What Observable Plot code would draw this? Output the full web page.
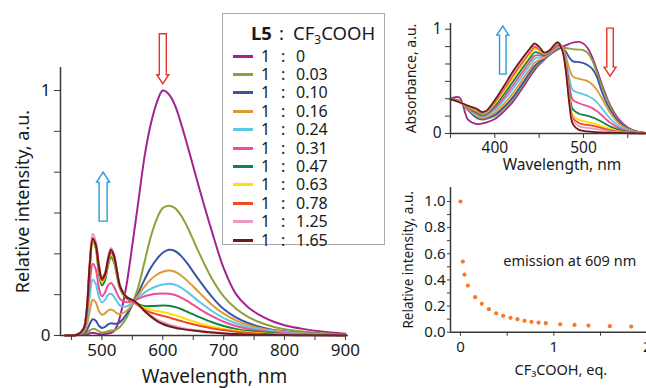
<!DOCTYPE html>
<html><head><meta charset="utf-8">
<script src="https://cdn.jsdelivr.net/npm/d3@7"></script>
<script src="https://cdn.jsdelivr.net/npm/@observablehq/plot@0.6"></script>
<style>
html,body{margin:0;padding:0;background:#fff;overflow:hidden;}
#wrap{position:relative;width:646px;height:388px;overflow:hidden;font-family:"Noto Sans","Open Sans",sans-serif;color:#1a1a1a;}
#wrap svg{position:absolute;max-width:none;overflow:visible;}
#legend{position:absolute;left:222px;top:13px;width:163px;height:232px;border:1.5px solid #a8a8a8;background:#fff;box-sizing:border-box;}
#legend .row{position:absolute;left:0;height:18px;line-height:18px;font-size:16px;white-space:nowrap;}
#legend .sw{position:absolute;left:10px;top:8px;width:20px;height:3px;}
#legend .one{position:absolute;left:38px;}
#legend .col{position:absolute;left:58px;}
#legend .val{position:absolute;left:73px;}
#legend .title{position:absolute;top:7px;left:0;height:24px;line-height:24px;font-size:18.5px;white-space:nowrap;}
</style></head><body><div id="wrap"></div><script>
// ---------- emission spectra (main panel) ----------
const ratioLabels = ["0","0.03","0.10","0.16","0.24","0.31","0.47","0.63","0.78","1.25","1.65"];
const seriesColors = ["#a4238f","#8aa23c","#3a55a5","#dc9a34","#5cc8e6","#ec4f9a","#11834a","#ffe000","#f04a23","#e99ac3","#6e1a1a"];
const emWl = [440,460,470,475,480,485,490,495,500,505,510,515,520,525,530,540,550,560,570,580,590,600,610,620,630,640,650,660,680,700,720,740,760,780,800,830,860,900];
const em_0    = [0,0.002,0.004,0.006,0.009,0.011,0.009,0.006,0.005,0.006,0.008,0.011,0.018,0.04,0.08,0.2,0.37,0.55,0.73,0.86,0.95,1.0,0.985,0.94,0.865,0.78,0.69,0.6,0.43,0.275,0.17,0.115,0.082,0.058,0.042,0.027,0.016,0.007];
const em_003  = [0,0.002,0.005,0.01,0.02,0.027,0.025,0.017,0.012,0.013,0.017,0.02,0.021,0.026,0.036,0.07,0.13,0.2,0.3,0.4,0.475,0.52,0.53,0.52,0.49,0.445,0.39,0.335,0.235,0.16,0.11,0.076,0.053,0.037,0.026,0.016,0.009,0.004];
const em_010  = [0,0.002,0.008,0.02,0.047,0.066,0.06,0.04,0.031,0.035,0.045,0.05,0.048,0.048,0.055,0.085,0.125,0.175,0.228,0.275,0.312,0.338,0.35,0.345,0.325,0.295,0.26,0.225,0.16,0.108,0.074,0.051,0.035,0.024,0.017,0.01,0.006,0.003];
const em_016  = [0,0.002,0.012,0.04,0.1,0.146,0.135,0.1,0.085,0.09,0.102,0.106,0.1,0.09,0.088,0.1,0.128,0.165,0.2,0.228,0.248,0.26,0.265,0.26,0.245,0.224,0.2,0.175,0.127,0.089,0.062,0.043,0.03,0.021,0.015,0.009,0.005,0.002];
const em_024  = [0,0.003,0.018,0.06,0.16,0.228,0.21,0.158,0.135,0.145,0.165,0.17,0.158,0.138,0.122,0.118,0.135,0.155,0.175,0.19,0.201,0.208,0.211,0.207,0.195,0.178,0.158,0.138,0.101,0.071,0.05,0.034,0.024,0.017,0.012,0.007,0.004,0.002];
const em_031  = [0,0.003,0.022,0.08,0.21,0.293,0.27,0.195,0.16,0.175,0.205,0.214,0.198,0.17,0.148,0.136,0.14,0.15,0.16,0.166,0.17,0.171,0.17,0.165,0.155,0.141,0.125,0.109,0.08,0.056,0.039,0.027,0.019,0.013,0.009,0.005,0.003,0.001];
const em_047  = [0,0.004,0.028,0.1,0.27,0.385,0.355,0.255,0.205,0.225,0.285,0.32,0.298,0.24,0.19,0.152,0.14,0.127,0.12,0.12,0.121,0.122,0.121,0.116,0.108,0.097,0.086,0.075,0.055,0.039,0.027,0.019,0.013,0.009,0.006,0.004,0.002,0.001];
const em_063  = [0,0.004,0.028,0.1,0.275,0.39,0.36,0.265,0.218,0.238,0.295,0.332,0.31,0.248,0.195,0.155,0.14,0.125,0.113,0.106,0.1,0.096,0.09,0.083,0.075,0.066,0.058,0.05,0.037,0.027,0.019,0.013,0.009,0.006,0.005,0.003,0.002,0.001];
const em_078  = [0,0.004,0.029,0.1,0.28,0.398,0.365,0.27,0.225,0.242,0.3,0.34,0.316,0.252,0.196,0.156,0.14,0.122,0.105,0.094,0.087,0.08,0.074,0.066,0.059,0.052,0.046,0.04,0.03,0.022,0.015,0.01,0.007,0.005,0.004,0.002,0.001,0.001];
const em_125  = [0,0.004,0.03,0.11,0.3,0.415,0.385,0.295,0.24,0.257,0.318,0.357,0.33,0.264,0.204,0.16,0.145,0.126,0.1,0.082,0.066,0.054,0.045,0.038,0.032,0.027,0.023,0.02,0.014,0.01,0.007,0.005,0.003,0.002,0.002,0.001,0.001,0];
const em_165  = [0,0.004,0.028,0.1,0.29,0.395,0.37,0.285,0.232,0.25,0.31,0.35,0.325,0.26,0.2,0.158,0.145,0.128,0.1,0.078,0.06,0.047,0.038,0.032,0.027,0.023,0.02,0.017,0.012,0.008,0.006,0.004,0.003,0.002,0.002,0.001,0.001,0];
const emSeries = [em_0,em_003,em_010,em_016,em_024,em_031,em_047,em_063,em_078,em_125,em_165];
const emXDomain = [432, 905];
const emYDomain = [0, 1.094];
const emXTicks = [450,500,550,600,650,700,750,800,850,900];
const emXTickLabels = ["","500","","600","","700","","800","","900"];
const emYTicks = [0,1/6,2/6,3/6,4/6,5/6,1];
const emYTickLabels = ["0","","","","","","1"];
const emXLabel = "Wavelength, nm";
const emYLabel = "Relative intensity, a.u.";
const emArrowDown = [{wl: 600, v: 1.13}];
const emArrowUp = [{wl: 502, v: 0.567}];

// ---------- absorbance spectra (top right) ----------
const abWl = [350,360,370,380,385,390,400,410,420,430,440,445,450,456,462,467,471,476,480,484,488,495,500,505,510,515,520,525,530,540,550,560,570];
const ab_0   = [0.335,0.345,0.13,0.09,0.095,0.105,0.14,0.21,0.3,0.42,0.55,0.61,0.66,0.71,0.755,0.785,0.805,0.83,0.845,0.86,0.872,0.878,0.862,0.815,0.73,0.615,0.49,0.375,0.275,0.135,0.057,0.021,0.006];
const ab_003 = [0.33,0.314,0.222,0.145,0.134,0.139,0.168,0.236,0.324,0.444,0.573,0.632,0.673,0.713,0.757,0.788,0.813,0.825,0.82,0.815,0.81,0.805,0.8,0.77,0.7,0.585,0.47,0.355,0.26,0.12,0.05,0.019,0.006];
const ab_010 = [0.33,0.313,0.225,0.151,0.139,0.145,0.179,0.252,0.344,0.464,0.591,0.649,0.685,0.718,0.76,0.793,0.818,0.825,0.787,0.729,0.692,0.685,0.675,0.655,0.62,0.545,0.42,0.31,0.23,0.11,0.045,0.017,0.005];
const ab_016 = [0.33,0.311,0.231,0.164,0.149,0.155,0.2,0.281,0.38,0.5,0.625,0.681,0.706,0.726,0.766,0.801,0.826,0.83,0.749,0.625,0.545,0.525,0.515,0.5,0.47,0.42,0.35,0.27,0.2,0.095,0.04,0.015,0.005];
const ab_024 = [0.33,0.309,0.238,0.178,0.161,0.167,0.224,0.315,0.422,0.542,0.664,0.718,0.731,0.736,0.773,0.811,0.836,0.832,0.714,0.534,0.416,0.39,0.375,0.36,0.335,0.3,0.25,0.195,0.145,0.07,0.03,0.012,0.004];
const ab_031 = [0.33,0.307,0.243,0.189,0.17,0.177,0.243,0.342,0.456,0.576,0.695,0.747,0.751,0.744,0.778,0.819,0.844,0.834,0.69,0.468,0.324,0.29,0.275,0.262,0.243,0.215,0.18,0.14,0.105,0.052,0.022,0.009,0.003];
const ab_047 = [0.33,0.305,0.249,0.202,0.18,0.187,0.264,0.371,0.492,0.612,0.729,0.779,0.772,0.752,0.784,0.827,0.852,0.836,0.665,0.403,0.232,0.19,0.178,0.168,0.155,0.137,0.115,0.09,0.068,0.034,0.015,0.006,0.002];
const ab_063 = [0.33,0.303,0.255,0.214,0.19,0.197,0.285,0.401,0.528,0.648,0.763,0.811,0.794,0.761,0.79,0.836,0.861,0.835,0.649,0.363,0.177,0.13,0.118,0.11,0.1,0.088,0.074,0.058,0.044,0.022,0.01,0.004,0.001];
const ab_078 = [0.33,0.302,0.259,0.222,0.196,0.204,0.298,0.419,0.551,0.671,0.784,0.831,0.807,0.766,0.794,0.841,0.866,0.83,0.638,0.342,0.149,0.1,0.088,0.082,0.075,0.066,0.055,0.043,0.033,0.017,0.008,0.003,0.001];
const ab_125 = [0.33,0.301,0.262,0.228,0.202,0.209,0.309,0.434,0.57,0.69,0.802,0.848,0.818,0.77,0.797,0.845,0.87,0.82,0.622,0.318,0.121,0.07,0.058,0.053,0.048,0.042,0.035,0.028,0.021,0.011,0.005,0.002,0.001];
const ab_165 = [0.33,0.3,0.265,0.235,0.207,0.215,0.32,0.45,0.59,0.71,0.82,0.865,0.83,0.775,0.8,0.85,0.875,0.8,0.61,0.29,0.09,0.035,0.025,0.02,0.016,0.013,0.011,0.009,0.007,0.005,0.003,0.002,0.001];
const abSeries = [ab_0,ab_003,ab_010,ab_016,ab_024,ab_031,ab_047,ab_063,ab_078,ab_125,ab_165];
const abXDomain = [350, 570];
const abYDomain = [0, 1.055];
const abXTicks = [350,400,450,500,550];
const abXTickLabels = ["","400","","500",""];
const abYTicks = [0,1/6,2/6,3/6,4/6,5/6,1];
const abYTickLabels = ["0","","","","","","1"];
const abXLabel = "Wavelength, nm";
const abYLabel = "Absorbance, a.u.";
const abArrowUp = [{wl: 409, v: 0.80}];
const abArrowDown = [{wl: 530, v: 0.78}];

// ---------- titration (bottom right) ----------
const acidEq = [0,0.025,0.043,0.079,0.157,0.229,0.304,0.382,0.457,0.536,0.61,0.686,0.76,0.836,0.914,1.068,1.221,1.371,1.6,1.829];
const rel609 = [1.0,0.54,0.44,0.357,0.268,0.217,0.176,0.145,0.125,0.11,0.1,0.087,0.079,0.074,0.069,0.061,0.056,0.051,0.046,0.043];
const brXDomain = [-0.107, 2];
const brYDomain = [0, 1.107];
const brXTicks = [0,0.5,1,1.5,2];
const brXTickLabels = ["0","","1","","2"];
const brYTicks = [0,0.1,0.2,0.3,0.4,0.5,0.6,0.7,0.8,0.9,1.0];
const brYTickLabels = ["0.0","","0.2","","0.4","","0.6","","0.8","","1.0"];
const brXLabel = "CF\u2083COOH, eq.";
const brYLabel = "Relative intensity, a.u.";
const brNote = [{x: 1.17, y: 0.54, text: "emission at 609 nm"}];

// ---------- helpers ----------
const FONT = "'Noto Sans','Open Sans',sans-serif";
function tickFmt(ticks, labels) { const m = new Map(ticks.map((t, i) => [t, labels[i]])); return d => (m.has(d) ? m.get(d) : ""); }
function blockArrow(len, shaftW, headW, headL) {
  return {draw(ctx) {
    const h = len / 2;
    ctx.moveTo(-shaftW / 2, -h);
    ctx.lineTo(shaftW / 2, -h);
    ctx.lineTo(shaftW / 2, h - headL);
    ctx.lineTo(headW / 2, h - headL);
    ctx.lineTo(0, h);
    ctx.lineTo(-headW / 2, h - headL);
    ctx.lineTo(-shaftW / 2, h - headL);
    ctx.closePath();
  }};
}
const RED = "#e8332a", BLUE = "#2b9ad6", AX = "#3a3a3a";
function table(xs, series) {
  const out = [];
  series.forEach((vals, i) => vals.forEach((v, j) => out.push({x: xs[j], v, s: ratioLabels[i]})));
  return out;
}
const wrap = document.getElementById("wrap");

// ---------- main plot ----------
const mainSvg = Plot.plot({
  width: 400, height: 388,
  marginLeft: 60, marginRight: 52, marginTop: 67, marginBottom: 53,
  x: {domain: emXDomain},
  y: {domain: emYDomain},
  color: {domain: ratioLabels, range: seriesColors},
  style: {fontFamily: FONT, fontSize: "17px", color: "#1a1a1a", background: "transparent", overflow: "visible"},
  marks: [
    Plot.line(table(emWl, emSeries), {x: "x", y: "v", z: "s", stroke: "s", strokeWidth: 2, curve: "catmull-rom"}),
    Plot.ruleX([emXDomain[0]], {stroke: AX, strokeWidth: 1.5}),
    Plot.ruleY([0], {stroke: AX, strokeWidth: 1.5}),
    Plot.axisY({ticks: emYTicks, tickFormat: tickFmt(emYTicks, emYTickLabels), tickSize: 6, tickPadding: 4, label: null, fontSize: 17, stroke: AX}),
    Plot.axisX({ticks: emXTicks, tickFormat: tickFmt(emXTicks, emXTickLabels), tickSize: 5, tickPadding: 3, label: null, fontSize: 17, stroke: AX}),
    Plot.text([emXLabel], {text: d => d, frameAnchor: "bottom", textAnchor: "middle", lineAnchor: "middle", dx: 10, dy: 41, fontSize: 19}),
    Plot.text([emYLabel], {text: d => d, frameAnchor: "left", textAnchor: "middle", lineAnchor: "middle", rotate: -90, dx: -37, fontSize: 18}),
    Plot.dot(emArrowDown, {x: "wl", y: "v", symbol: blockArrow(50, 7, 12, 9), r: 5, stroke: RED, fill: "white", strokeWidth: 1.4}),
    Plot.dot(emArrowUp, {x: "wl", y: "v", symbol: blockArrow(49, 8, 13, 10), r: 5, rotate: 180, stroke: BLUE, fill: "white", strokeWidth: 1.4})
  ]
});
mainSvg.style.left = "0px"; mainSvg.style.top = "0px";
wrap.appendChild(mainSvg);

// ---------- legend ----------
const legend = document.createElement("div");
legend.id = "legend";
legend.innerHTML = '<div class="title"><b style="position:absolute;left:28px;">L5</b><span style="position:absolute;left:56px;">:</span><span style="position:absolute;left:70px;">CF<sub style="font-size:12px;vertical-align:-4px;">3</sub>COOH</span></div>';
ratioLabels.forEach((lab, i) => {
  const row = document.createElement("div");
  row.className = "row";
  row.style.top = (32.5 + i * 18.4) + "px";
  row.style.width = "100%";
  row.innerHTML = '<span class="sw" style="background:' + seriesColors[i] + '"></span><span class="one">1</span><span class="col">:</span><span class="val">' + lab + '</span>';
  legend.appendChild(row);
});
wrap.appendChild(legend);

// ---------- absorbance plot ----------
const abSvg = Plot.plot({
  width: 246, height: 175,
  marginLeft: 50, marginRight: 1, marginTop: 23, marginBottom: 42,
  x: {domain: abXDomain},
  y: {domain: abYDomain},
  color: {domain: ratioLabels, range: seriesColors},
  style: {fontFamily: FONT, fontSize: "15.5px", color: "#1a1a1a", background: "transparent", overflow: "visible"},
  marks: [
    Plot.line(table(abWl, abSeries), {x: "x", y: "v", z: "s", stroke: "s", strokeWidth: 1.8, curve: "catmull-rom"}),
    Plot.ruleX([abXDomain[0]], {stroke: AX, strokeWidth: 1.5}),
    Plot.ruleY([0], {stroke: AX, strokeWidth: 1.5}),
    Plot.axisY({ticks: abYTicks, tickFormat: tickFmt(abYTicks, abYTickLabels), tickSize: 5, tickPadding: 4, label: null, fontSize: 15.5, stroke: AX}),
    Plot.axisX({ticks: abXTicks, tickFormat: tickFmt(abXTicks, abXTickLabels), tickSize: 5, tickPadding: 3, label: null, fontSize: 15.5, stroke: AX}),
    Plot.text([abXLabel], {text: d => d, frameAnchor: "bottom", textAnchor: "middle", lineAnchor: "middle", dx: 14, dy: 32, fontSize: 15.5}),
    Plot.text([abYLabel], {text: d => d, frameAnchor: "left", textAnchor: "middle", lineAnchor: "middle", rotate: -90, dx: -39, fontSize: 14}),
    Plot.dot(abArrowUp, {x: "wl", y: "v", symbol: blockArrow(48, 6.5, 12, 9), r: 5, rotate: 180, stroke: BLUE, fill: "white", strokeWidth: 1.4}),
    Plot.dot(abArrowDown, {x: "wl", y: "v", symbol: blockArrow(48, 6.5, 12, 9), r: 5, stroke: RED, fill: "white", strokeWidth: 1.4})
  ]
});
abSvg.style.left = "400px"; abSvg.style.top = "0px";
wrap.appendChild(abSvg);

// ---------- titration plot ----------
const brSvg = Plot.plot({
  width: 260, height: 213,
  marginLeft: 50, marginRight: 13.3, marginTop: 12, marginBottom: 56.3,
  x: {domain: brXDomain},
  y: {domain: brYDomain},
  style: {fontFamily: FONT, fontSize: "15px", color: "#1a1a1a", background: "transparent", overflow: "visible"},
  marks: [
    Plot.ruleX([brXDomain[0]], {stroke: AX, strokeWidth: 1.5}),
    Plot.ruleY([0], {stroke: AX, strokeWidth: 1.5}),
    Plot.axisY({ticks: brYTicks, tickFormat: tickFmt(brYTicks, brYTickLabels), tickSize: 3, tickPadding: 2, label: null, fontSize: 15, stroke: AX}),
    Plot.axisX({ticks: brXTicks, tickFormat: tickFmt(brXTicks, brXTickLabels), tickSize: 4, tickPadding: 5, label: null, fontSize: 15, stroke: AX}),
    Plot.dot(acidEq.map((x, i) => ({x, y: rel609[i]})), {x: "x", y: "y", r: 2.1, fill: "#f47a2c", stroke: "none"}),
    Plot.text(brNote, {x: "x", y: "y", text: "text", fontSize: 14.5}),
    Plot.text([brXLabel], {text: d => d, frameAnchor: "bottom", textAnchor: "middle", lineAnchor: "middle", dx: 12, dy: 38, fontSize: 14.5}),
    Plot.text([brYLabel], {text: d => d, frameAnchor: "left", textAnchor: "middle", lineAnchor: "middle", rotate: -90, dx: -42, fontSize: 13.5})
  ]
});
brSvg.style.left = "400px"; brSvg.style.top = "175px";
wrap.appendChild(brSvg);
</script></body></html>
